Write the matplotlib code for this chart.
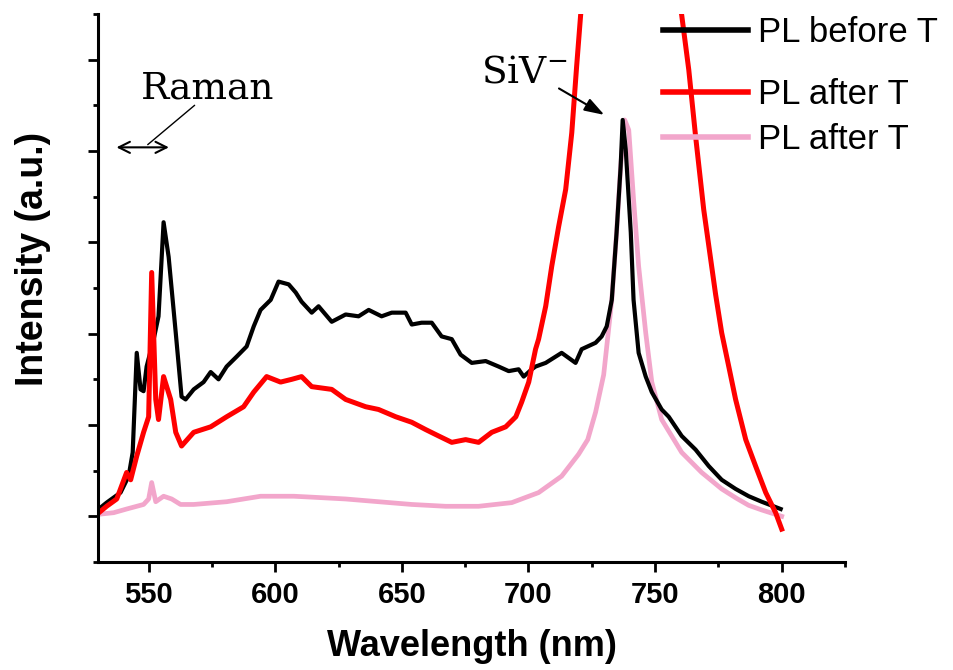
import matplotlib
matplotlib.use('Agg')
import matplotlib.pyplot as plt
from matplotlib.ticker import MultipleLocator

plt.rcParams['font.family'] = ['Liberation Sans', 'DejaVu Sans']
plt.rcParams['mathtext.fontset'] = 'dejavuserif'

# PL before T (black)
wl_before = [530.3, 533.4, 538.9, 542.1, 543.7, 545.3, 546.8, 548.0, 549.2, 552.0,
             553.9, 555.9, 557.9, 560.7, 563.0, 564.6, 567.8, 571.7, 574.5, 577.6,
             580.8, 584.8, 588.7, 591.5, 594.2, 598.2, 601.3, 605.3, 608.1, 610.4,
             614.4, 617.1, 622.3, 627.8, 632.9, 636.9, 642.0, 646.0, 651.5, 653.9,
             657.8, 661.8, 665.7, 669.7, 673.2, 677.6, 683.1, 688.2, 692.2, 696.1,
             698.1, 701.3, 702.8, 706.8, 713.1, 718.6, 721.0, 726.5, 728.9, 730.9,
             732.9, 734.8, 736.4, 737.2, 738.4, 740.4, 741.5, 743.5, 746.3, 748.7,
             752.6, 755.4, 760.5, 766.0, 771.2, 776.3, 781.8, 787.0, 792.1, 799.6]
pl_before = [0.08, 0.15, 0.26, 0.44, 0.70, 1.79, 1.39, 1.37, 1.64, 1.94,
             2.19, 3.22, 2.84, 2.01, 1.31, 1.28, 1.39, 1.47, 1.58, 1.50,
             1.64, 1.75, 1.86, 2.08, 2.26, 2.37, 2.57, 2.54, 2.45, 2.35,
             2.23, 2.30, 2.13, 2.21, 2.19, 2.26, 2.19, 2.23, 2.23, 2.10,
             2.12, 2.12, 1.97, 1.94, 1.77, 1.68, 1.70, 1.64, 1.59, 1.61,
             1.53, 1.61, 1.64, 1.68, 1.79, 1.68, 1.83, 1.90, 1.97, 2.08,
             2.37, 3.11, 3.83, 4.34, 4.02, 3.11, 2.37, 1.79, 1.53, 1.36,
             1.17, 1.09, 0.88, 0.73, 0.55, 0.40, 0.30, 0.22, 0.16, 0.08]

# PL after T (red)
wl_after = [529.5, 533.4, 537.4, 541.3, 542.9, 545.3, 548.0, 550.0, 551.2, 552.8,
            553.9, 555.9, 558.7, 560.7, 563.0, 567.8, 574.5, 580.8, 587.5, 591.5,
            596.6, 602.1, 606.5, 610.4, 614.4, 622.3, 627.8, 635.7, 640.8, 647.6,
            653.9, 659.4, 664.5, 669.7, 675.2, 680.3, 685.5, 691.0, 695.0, 697.3,
            700.1, 702.8, 704.0, 706.8, 709.2, 711.9, 714.7, 717.1, 719.0, 720.6,
            725.0, 732.0, 740.0, 748.0, 755.0, 760.5, 763.3, 766.0, 769.2, 773.9,
            776.3, 779.1, 781.8, 785.8, 789.7, 793.7, 797.6, 800.0]
pl_after = [0.02, 0.11, 0.19, 0.48, 0.40, 0.66, 0.92, 1.09, 2.67, 1.28,
            1.06, 1.53, 1.28, 0.92, 0.77, 0.92, 0.98, 1.09, 1.20, 1.36,
            1.53, 1.47, 1.50, 1.53, 1.42, 1.39, 1.28, 1.20, 1.17, 1.09,
            1.03, 0.95, 0.88, 0.81, 0.84, 0.81, 0.92, 0.98, 1.09, 1.25,
            1.47, 1.83, 1.94, 2.30, 2.74, 3.17, 3.58, 4.20, 4.92, 5.49,
            6.6, 7.6, 8.0, 7.4, 6.3, 5.49, 4.89, 4.16, 3.36, 2.43,
            2.01, 1.64, 1.28, 0.84, 0.55, 0.26, 0.04, -0.14]

# PL after T (pink)
wl_after2 = [529.5, 536.2, 541.3, 548.0, 550.0, 551.2, 552.8, 555.9, 559.1, 562.6,
             567.8, 580.8, 594.2, 607.3, 614.4, 627.8, 640.8, 653.9, 667.3, 680.3,
             693.4, 704.0, 713.1, 719.8, 723.4, 726.5, 729.7, 732.9, 734.8, 736.4,
             738.0, 739.6, 741.5, 743.5, 746.3, 748.7, 752.6, 760.5, 768.4, 776.3,
             782.0, 787.0, 792.1, 800.0]
pl_after2 = [0.02, 0.04, 0.08, 0.13, 0.19, 0.37, 0.16, 0.22, 0.19, 0.13,
             0.13, 0.16, 0.22, 0.22, 0.21, 0.19, 0.16, 0.13, 0.11, 0.11,
             0.15, 0.26, 0.44, 0.68, 0.84, 1.14, 1.55, 2.37, 3.11, 3.83,
             4.34, 4.23, 3.47, 2.74, 2.01, 1.47, 1.06, 0.70, 0.48, 0.30,
             0.20, 0.12, 0.07, 0.00]

fig = plt.figure(figsize=(9.54, 6.7), dpi=100)
ax = fig.add_axes([98/954, 108/670, 747/954, 548/670])

l_pink, = ax.plot(wl_after2, pl_after2, color='#f2a6cb', lw=3.4, label='PL after T')
l_black, = ax.plot(wl_before, pl_before, color='k', lw=3, label='PL before T')
l_red, = ax.plot(wl_after, pl_after, color='#ff0000', lw=3.6, label='PL after T')

ax.set_xlim(530, 825)
ax.set_ylim(-0.5, 5.5)
ax.xaxis.set_major_locator(MultipleLocator(50))
ax.xaxis.set_minor_locator(MultipleLocator(25))
ax.yaxis.set_major_locator(MultipleLocator(1))
ax.yaxis.set_minor_locator(MultipleLocator(0.5))

for s in ['top', 'right']:
    ax.spines[s].set_visible(False)
for s in ['left', 'bottom']:
    ax.spines[s].set_linewidth(2.2)

ax.tick_params(which='major', direction='out', length=7, width=2, labelsize=21, pad=7)
ax.tick_params(which='minor', direction='out', length=3.5, width=2)
ax.tick_params(axis='y', labelleft=False)
for lbl in ax.get_xticklabels():
    lbl.set_fontweight('bold')

ax.set_xlabel('Wavelength (nm)', fontsize=26, fontweight='bold', labelpad=14)
ax.set_ylabel('Intensity (a.u.)', fontsize=27, fontweight='bold')
ax.yaxis.set_label_coords(-0.063, 0.553)

# annotations
ax.text(573.3, 4.58, 'Raman', family='DejaVu Serif', fontsize=27, ha='center', va='baseline')
ax.annotate('', xy=(536.2, 4.04), xytext=(559.1, 4.04),
            arrowprops=dict(arrowstyle='<->', color='k', lw=1.5, mutation_scale=20))
ax.annotate('', xy=(548.8, 4.05), xytext=(569.0, 4.52),
            arrowprops=dict(arrowstyle='-', color='k', lw=1))
ax.text(681.1, 4.75, r'SiV$^{-}$', family='DejaVu Serif', fontsize=27, ha='left', va='baseline')
ax.annotate('', xy=(730.9, 4.38), xytext=(711.1, 4.70),
            arrowprops=dict(arrowstyle='-|>,head_length=0.6,head_width=0.2', color='k',
                            lw=1.5, mutation_scale=20))

leg_kw = dict(loc='center left', bbox_transform=fig.transFigure, frameon=False, fontsize=25,
              handlelength=2.45, handletextpad=0.3, borderpad=0, borderaxespad=0)
leg1 = ax.legend(handles=[l_black], bbox_to_anchor=(663/954, 1 - 33/670), **leg_kw)
ax.add_artist(leg1)
leg2 = ax.legend(handles=[l_red, l_pink], bbox_to_anchor=(663/954, 1 - 117/670),
                 labelspacing=0.35, **leg_kw)
for leg in [leg1, leg2]:
    for ln in leg.get_lines():
        ln.set_linewidth(4)

plt.savefig('out.png', dpi=100)
